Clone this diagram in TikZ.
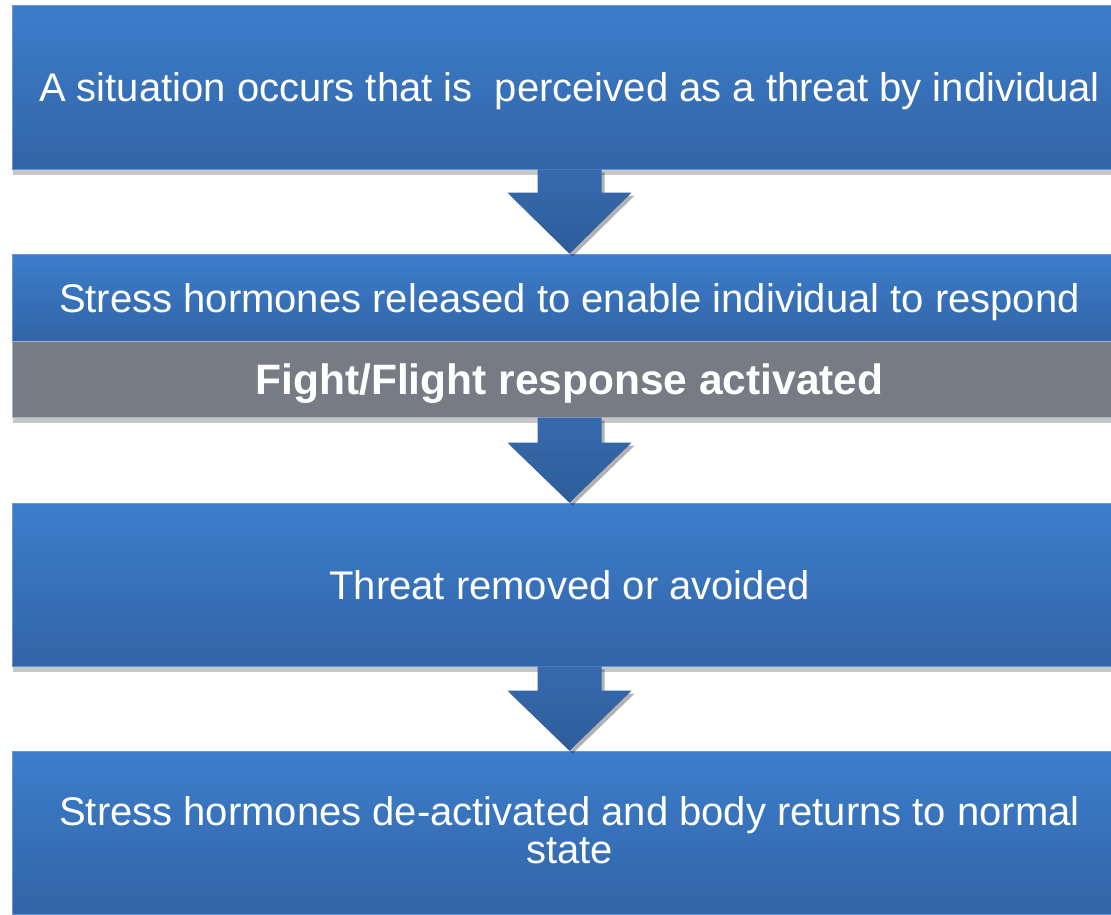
\documentclass[tikz,border=0pt]{standalone}
\usepackage{fontspec}
\setmainfont{Liberation Sans}
\usepackage{tikz}
\usetikzlibrary{calc,shadows}

\definecolor{boxtop}{RGB}{60,126,204}
\definecolor{boxbot}{RGB}{50,100,166}
\definecolor{arrtop}{RGB}{54,106,174}
\definecolor{arrbot}{RGB}{45,92,154}
\definecolor{graybox}{RGB}{119,124,132}
\definecolor{grayline}{RGB}{165,178,198}

\tikzset{
  bluebox/.style={rectangle, inner sep=0pt, minimum width=1115pt, text=white,
    top color=boxtop, bottom color=boxbot, draw=boxtop!80!white, line width=.6pt,
    font=\fontsize{40}{38}\selectfont, align=center, text height=29pt, text depth=0pt,
    drop shadow={shadow xshift=1pt, shadow yshift=-6pt, fill=black, opacity=.22}},
  greybox/.style={rectangle, inner sep=0pt, minimum width=1115pt, text=white,
    fill=graybox, draw=grayline, line width=1pt,
    font=\fontsize{42.5}{42}\selectfont\bfseries, text height=30.5pt, text depth=0pt,
    drop shadow={shadow xshift=1pt, shadow yshift=-6pt, fill=black, opacity=.22}},
  downarrow/.style={top color=arrtop, bottom color=arrbot,
    drop shadow={shadow xshift=3pt, shadow yshift=-3pt, fill=black, opacity=.3}}
}

\begin{document}
\begin{tikzpicture}[x=1pt, y=-1pt]
\clip (0,0) rectangle (1111,914);
\fill [white] (0,0) rectangle (1111,914);

%%箱
\node [bluebox, minimum height=164pt] (b1) at (569.5,87) {A situation occurs that is \ perceived as a threat by individual};
   %いちばん上の箱
\node [bluebox, minimum height=87pt] (b2) at (569.5,297.5) {Stress hormones released to enable individual to respond};
\node [greybox, minimum height=76pt] (g) at (569.5,379) {Fight/Flight response activated};
   %灰色の帯
\node [bluebox, minimum height=163pt] (b4) at (569.5,584.5) {Threat removed or avoided};
\node [bluebox, minimum height=163pt, text height=67pt, text depth=6pt] (b5) at (569.5,832.5) {Stress hormones de-activated and body returns to normal\\state};

%%下向きの太い矢印
\path [downarrow] ($(b1.south)+(-32,0)$) -- ($(b2.north)+(-32,-61)$) -- ($(b2.north)+(-62,-61)$)
   -- (b2.north) -- ($(b2.north)+(62,-61)$) -- ($(b2.north)+(32,-61)$) -- ($(b1.south)+(32,0)$) -- cycle;
\path [downarrow] ($(g.south)+(-32,0)$) -- ($(b4.north)+(-32,-60)$) -- ($(b4.north)+(-62,-60)$)
   -- (b4.north) -- ($(b4.north)+(62,-60)$) -- ($(b4.north)+(32,-60)$) -- ($(g.south)+(32,0)$) -- cycle;
\path [downarrow] ($(b4.south)+(-32,0)$) -- ($(b5.north)+(-32,-60)$) -- ($(b5.north)+(-62,-60)$)
   -- (b5.north) -- ($(b5.north)+(62,-60)$) -- ($(b5.north)+(32,-60)$) -- ($(b4.south)+(32,0)$) -- cycle;
   %箱の下辺から次の箱の上辺まで
\end{tikzpicture}
\end{document}
